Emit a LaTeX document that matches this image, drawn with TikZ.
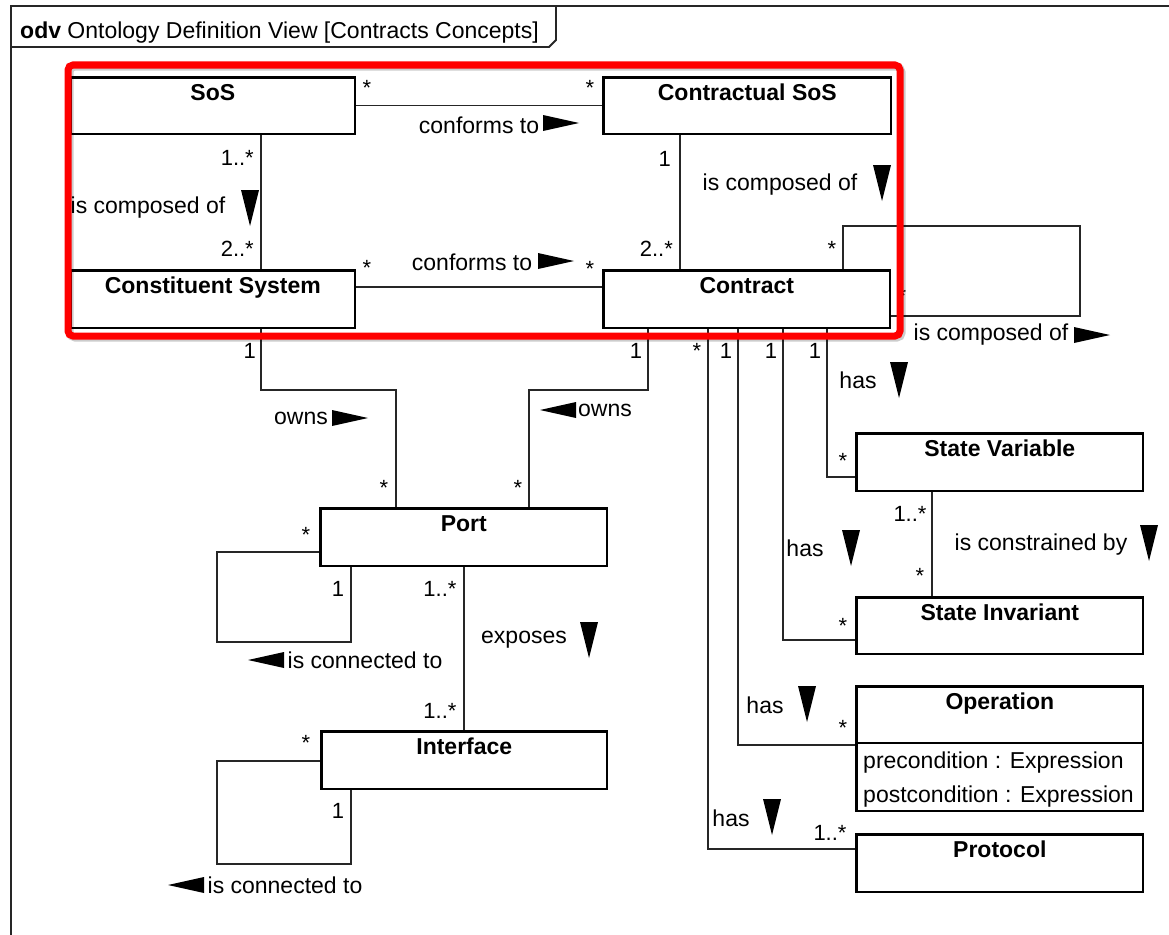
\documentclass[tikz,border=0pt]{standalone}
\usepackage{fontspec}
\setmainfont{Liberation Sans}
\begin{document}
\begin{tikzpicture}[x=1pt,y=-1pt,
  cls/.style={draw=black, line width=1.6pt, fill=white, rectangle, inner sep=0pt, anchor=north west},
  ttl/.style={anchor=base, font=\fontsize{23}{27}\selectfont\bfseries, inner sep=0pt},
  attr/.style={anchor=base west, font=\fontsize{23}{27}\selectfont, inner sep=0pt},
  lbl/.style={anchor=center, font=\fontsize{23}{27}\selectfont, inner sep=0pt},
  mult/.style={anchor=base, font=\fontsize{22}{26}\selectfont, inner sep=0pt},
  multr/.style={mult, anchor=base east},
  conn/.style={draw=black!85, line width=1.1pt},
  frame/.style={draw=black!85, line width=1.8pt},
  pics/rarrow/.style={code={\fill[black] (0,-8) -- (36,0) -- (0,8) -- cycle;}},
  pics/larrow/.style={code={\fill[black] (0,0) -- (36,-8) -- (36,8) -- cycle;}},
  pics/darrow/.style={code={\fill[black] (-9,0) -- (9,0) -- (0,36) -- cycle;}},
]
\useasboundingbox (0,0) rectangle (1169,934);
\begin{scope}
\clip (0,0) rectangle (1169,934);
\fill[white] (0,0) rectangle (1169,934);
% diagram frame and heading tab
\draw[frame] (11,940) -- (11,6) -- (1175,6);
\draw[frame] (11,47) -- (549,47) -- (556,40) -- (556,6);
\node[anchor=base west, inner sep=0pt, font=\fontsize{23}{27}\selectfont] (head) at (20,38)
  {\textbf{odv} Ontology Definition View [Contracts Concepts]};
\end{scope}

% class boxes (placed first so connectors can refer to them)
\node[cls, minimum width=284pt, minimum height=56pt] (sos)   at (70,77) {};
\node[cls, minimum width=287pt, minimum height=56pt] (csos)  at (603,77) {};
\node[cls, minimum width=284pt, minimum height=57pt] (cs)    at (70,270) {};
\node[cls, minimum width=286pt, minimum height=57pt] (ct)    at (603,270) {};
\node[cls, minimum width=286pt, minimum height=57pt] (port)  at (320,508) {};
\node[cls, minimum width=285pt, minimum height=57pt] (iface) at (321,731) {};
\node[cls, minimum width=286pt, minimum height=57pt] (sv)    at (856,433) {};
\node[cls, minimum width=286pt, minimum height=56pt] (si)    at (856,597) {};
\node[cls, minimum width=286pt, minimum height=124pt] (op)   at (856,686) {};
\node[cls, minimum width=286pt, minimum height=57pt] (proto) at (856,834) {};

% associations
\draw[conn] (sos.east) -- (csos.west);
\draw[conn] (cs.east |- 0,287) -- (ct.west |- 0,287);
\draw[conn] (sos.south -| 261,0) -- (cs.north -| 261,0);
\draw[conn] (csos.south -| 680,0) -- (ct.north -| 680,0);
\draw[conn] (ct.north -| 843,0) -- (843,226) -- (1080,226) -- (1080,316) -- (ct.east |- 0,316);
\draw[conn] (cs.south -| 261,0) -- (261,390) -- (396,390) -- (port.north -| 396,0);
\draw[conn] (ct.south -| 648,0) -- (648,390) -- (529,390) -- (port.north -| 529,0);
\draw[conn] (ct.south -| 708,0) -- (708,849) -- (proto.west |- 0,849);
\draw[conn] (ct.south -| 738,0) -- (738,745) -- (op.west |- 0,745);
\draw[conn] (ct.south -| 783,0) -- (783,640) -- (si.west |- 0,640);
\draw[conn] (ct.south -| 827,0) -- (827,477) -- (sv.west |- 0,477);
\draw[conn] (sv.south -| 932,0) -- (si.north -| 932,0);
\draw[conn] (port.south -| 464,0) -- (iface.north -| 464,0);
\draw[conn] (port.west |- 0,552) -- (217,552) -- (217,642) -- (351,642) -- (port.south -| 351,0);
\draw[conn] (iface.west |- 0,761) -- (217,761) -- (217,864) -- (351,864) -- (iface.south -| 351,0);

% redraw box outlines over connector ends
\foreach \b in {sos,csos,cs,ct,port,iface,sv,si,op,proto}
  \draw[line width=1.6pt] (\b.north west) rectangle (\b.south east);

% class titles
\node[ttl] (sosT)   at ([yshift=-23pt]sos.north)   {SoS};
\node[ttl] (csosT)  at ([yshift=-23pt]csos.north)  {Contractual SoS};
\node[ttl] (csT)    at ([yshift=-23pt]cs.north)    {Constituent System};
\node[ttl] (ctT)    at ([yshift=-23pt]ct.north)    {Contract};
\node[ttl] (portT)  at ([yshift=-23pt]port.north)  {Port};
\node[ttl] (ifaceT) at ([yshift=-23pt]iface.north) {Interface};
\node[ttl] (svT)    at ([yshift=-23pt]sv.north)    {State Variable};
\node[ttl] (siT)    at ([yshift=-23pt]si.north)    {State Invariant};
\node[ttl] (opT)    at ([yshift=-23pt]op.north)    {Operation};
\node[ttl] (protoT) at ([yshift=-23pt]proto.north) {Protocol};

% operation attribute compartment
\draw[line width=1.6pt] (op.west |- 0,743) -- (op.east |- 0,743);
\node[attr] (opA1) at (863,768) {precondition : Expression};
\node[attr] (opA2) at (863,802) {postcondition : Expression};

% association names with direction marks
\node[lbl] (l1) at (479,125) {conforms to};   \pic at (543,123) {rarrow};
\node[lbl] (l2) at (472,262) {conforms to};   \pic at (538,261) {rarrow};
\node[lbl] (l3) at (148,208) {is composed of}; \pic at (250,190) {darrow};
\node[lbl] (l4) at (780,185) {is composed of}; \pic at (882,165) {darrow};
\node[lbl] (l5) at (991,335) {is composed of}; \pic at (1074,335) {rarrow};
\node[lbl] (l6) at (301,418) {owns};           \pic at (332,418) {rarrow};
\node[lbl] (l7) at (605,410) {owns};           \pic at (540,410) {larrow};
\node[lbl] (l8) at (858,380) {has};            \pic at (899,362) {darrow};
\node[lbl] (l9) at (805,548) {has};            \pic at (851,530) {darrow};
\node[lbl] (l10) at (765,705) {has};           \pic at (807,686) {darrow};
\node[lbl] (l11) at (731,818) {has};           \pic at (772,799) {darrow};
\node[lbl] (l12) at (1041,545) {is constrained by}; \pic at (1149,525) {darrow};
\node[lbl] (l13) at (524,640) {exposes};       \pic at (589,622) {darrow};
\node[lbl] (l14) at (365,660) {is connected to}; \pic at (248,660) {larrow};
\node[lbl] (l15) at (285,885) {is connected to}; \pic at (168,885) {larrow};

% multiplicities
\node[mult] (m1) at (367,95) {*};
\node[mult] (m2) at (590,95) {*};
\node[mult] (m3) at (367,275) {*};
\node[mult] (m4) at (590,276) {*};
\node[multr] (m5) at (254,165) {1..*};
\node[multr] (m6) at (254,256) {2..*};
\node[multr] (m7) at (671,166) {1};
\node[multr] (m8) at (673,256) {2..*};
\node[mult] (m9) at (832,256) {*};
\node[mult] (m10) at (902,303) {*};
\node[multr] (m11) at (256,358) {1};
\node[mult] (m12) at (384,495) {*};
\node[mult] (m13) at (636,358) {1};
\node[mult] (m14) at (518,495) {*};
\node[mult] (m15) at (697,358) {*};
\node[mult] (m16) at (726,358) {1};
\node[mult] (m17) at (771,358) {1};
\node[mult] (m18) at (815,358) {1};
\node[mult] (m19) at (843,468) {*};
\node[mult] (m20) at (910,521) {1..*};
\node[mult] (m21) at (920,583) {*};
\node[mult] (m22) at (843,633) {*};
\node[mult] (m23) at (843,735) {*};
\node[mult] (m24) at (830,840) {1..*};
\node[mult] (m25) at (306,542) {*};
\node[mult] (m26) at (338,596) {1};
\node[mult] (m27) at (440,596) {1..*};
\node[mult] (m28) at (440,718) {1..*};
\node[mult] (m29) at (306,750) {*};
\node[mult] (m30) at (338,818) {1};

% highlight around the contract core
\draw[black, opacity=0.2, line width=7pt, rounded corners=5pt] (70,67) rectangle (902,338);
\draw[red, line width=7pt, rounded corners=5pt] (68,65) rectangle (900,336);
\end{tikzpicture}
\end{document}
